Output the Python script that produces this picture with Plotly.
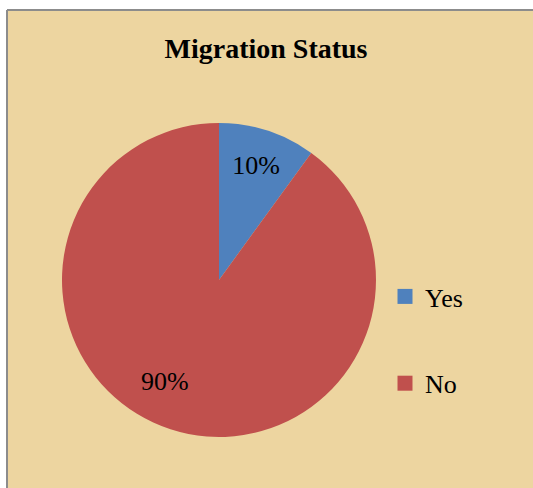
import math
import plotly.graph_objects as go

W, H = 533, 488

categories = ["Yes", "No"]
values = [10, 90]
colors = ["#4F81BD", "#C0504D"]
title_text = "Migration Status"

# pie geometry (pixels)
PIE_X = [62, 376]
PIE_Y = [123, 437]

fig = go.Figure()

fig.add_trace(go.Pie(
    labels=categories,
    values=values,
    marker=dict(colors=colors, line=dict(width=0)),
    sort=False,
    direction="clockwise",
    rotation=0,
    textinfo="percent",
    texttemplate="%{percent:.0%}",
    textposition=["inside", "none"],
    insidetextorientation="horizontal",
    textfont=dict(family="Liberation Serif", size=26, color="#000000"),
    showlegend=False,
    domain=dict(x=[PIE_X[0] / W, PIE_X[1] / W], y=[1 - PIE_Y[1] / H, 1 - PIE_Y[0] / H]),
    hoverinfo="label+percent",
))

# label of the large slice placed like Excel's best-fit label
total = sum(values)
cx = (PIE_X[0] + PIE_X[1]) / 2
cy = (PIE_Y[0] + PIE_Y[1]) / 2
r = (PIE_X[1] - PIE_X[0]) / 2
start = values[0] / total * 360
mid = start + (values[1] / total * 360) / 2 + 10  # degrees clockwise from top
lx = cx + 0.73 * r * math.sin(math.radians(mid))
ly = cy - 0.73 * r * math.cos(math.radians(mid))
annotations = [dict(
    text=f"{values[1] / total * 100:.0f}%",
    x=lx / W, y=1 - ly / H, xref="paper", yref="paper",
    xanchor="center", yanchor="middle", showarrow=False,
    font=dict(family="Liberation Serif", size=26, color="#000000"),
)]

# legend entries (one per category)
for cat, col in zip(categories, colors):
    fig.add_trace(go.Scatter(
        x=[None], y=[None], mode="markers", name=cat,
        legendgroup=cat,
        marker=dict(symbol="square", size=15, color=col),
        showlegend=True,
    ))

bx = 7 / W
by = 1 - 10 / H
shapes = [
    dict(type="rect", xref="paper", yref="paper", x0=-0.05, x1=1.05, y0=by, y1=1.05,
         fillcolor="#FFFFFF", line=dict(width=0), layer="below"),
    dict(type="rect", xref="paper", yref="paper", x0=-0.05, x1=bx, y0=-0.05, y1=1.05,
         fillcolor="#FFFFFF", line=dict(width=0), layer="below"),
    dict(type="line", xref="paper", yref="paper", x0=bx, x1=1.05, y0=by, y1=by,
         line=dict(color="#8C8C8C", width=2), layer="below"),
    dict(type="line", xref="paper", yref="paper", x0=bx, x1=bx, y0=-0.05, y1=by,
         line=dict(color="#8C8C8C", width=2), layer="below"),
]

fig.update_layout(
    width=W, height=H,
    margin=dict(l=0, r=0, t=0, b=0),
    paper_bgcolor="#EDD5A0",
    plot_bgcolor="rgba(0,0,0,0)",
    xaxis=dict(visible=False),
    yaxis=dict(visible=False),
    title=dict(
        text="<b>" + title_text + "</b>",
        font=dict(family="Liberation Serif", size=28, color="#000000"),
        x=266 / W, xanchor="center",
        y=1 - 48 / H, yanchor="middle",
    ),
    legend=dict(
        x=385 / W, xanchor="left",
        y=1 - 273 / H, yanchor="top",
        font=dict(family="Liberation Serif", size=26, color="#000000"),
        bgcolor="rgba(0,0,0,0)",
        tracegroupgap=50,
        traceorder="grouped",
    ),
    annotations=annotations,
    shapes=shapes,
)

fig.write_html(
    "out.html", config={"displayModeBar": False},
    post_script="document.body.style.margin='0';document.body.style.overflow='hidden';"
                "document.documentElement.style.overflow='hidden';",
)
